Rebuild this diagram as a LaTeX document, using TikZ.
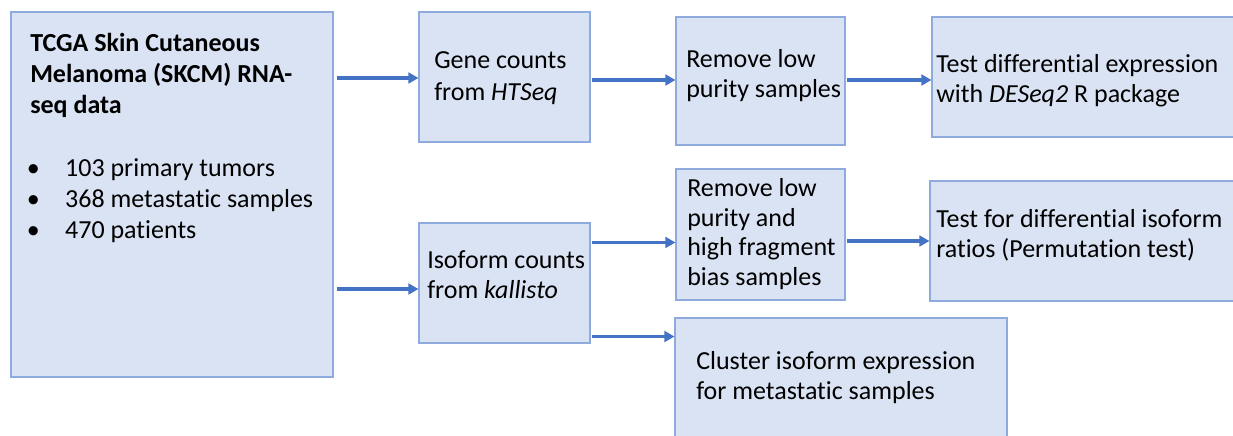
\documentclass[tikz,border=0pt]{standalone}
\usepackage{fontspec}
\setmainfont[Ligatures=NoCommon]{Carlito}
\usetikzlibrary{arrows.meta,calc,fit}
\definecolor{boxfill}{HTML}{DAE3F3}
\definecolor{boxline}{HTML}{8FAADC}
\definecolor{arrowc}{HTML}{4472C4}
\tikzset{
  box/.style={draw=boxline, fill=boxfill, line width=0.8pt, inner sep=0pt, rectangle},
  txt/.style={inner sep=0pt, align=left, anchor=base west, font=\fontsize{19.5}{23}\selectfont},
  arr/.style={draw=arrowc, line width=2.8pt, -{Triangle[length=7.5pt,width=8pt]}}
}
\newcommand{\blt}{\makebox[26.2pt][l]{\hspace{-2.5pt}•}}
\begin{document}
\begin{tikzpicture}[x=0.75pt,y=-0.75pt]
\useasboundingbox (0,0) rectangle (1233,436);
\clip (0,0) rectangle (1233,436);
% boxes
\node[box, fit={(11,12) (333,377)}] (main) {};
\node[box, fit={(419,12) (590,142)}] (gene) {};
\node[box, fit={(676,17) (845,145)}] (rem) {};
\node[box, fit={(932,17) (1240,137)}] (de) {};
\node[box, fit={(419,223) (590,343)}] (iso) {};
\node[box, fit={(676,169) (845,300)}] (remb) {};
\node[box, fit={(930,181) (1240,301)}] (diso) {};
\node[box, fit={(675,318) (1007,445)}] (clu) {};
% texts (anchored at the baseline of their last line)
\node[txt, font=\fontsize{19.5}{23.2}\selectfont\bfseries] (maint) at (30,113) {TCGA Skin Cutaneous\\Melanoma (SKCM) RNA-\\seq data};
\node[txt, font=\fontsize{19.5}{22.9}\selectfont] (list) at (30,238) {\blt 103 primary tumors\\\blt 368 metastatic samples\\\blt 470 patients};
\node[txt, font=\fontsize{19.5}{24}\selectfont] (genet) at (434,100) {Gene counts\\from \textit{HTSeq}};
\node[txt, font=\fontsize{19.5}{22.5}\selectfont] (remt) at (686,97) {Remove low\\purity samples};
\node[txt, font=\fontsize{19.5}{22.5}\selectfont] (det) at (936,102) {Test differential expression\\with \textit{DESeq2} R package};
\node[txt, font=\fontsize{19.5}{22.5}\selectfont] (isot) at (427,298) {Isoform counts\\from \textit{kallisto}};
\node[txt, font=\fontsize{19.5}{22.1}\selectfont] (rembt) at (687,285) {Remove low\\purity and\\high fragment\\bias samples};
\node[txt, font=\fontsize{19.5}{22.5}\selectfont] (disot) at (936,257) {Test for differential isoform\\ratios (Permutation test)};
\node[txt, font=\fontsize{19.5}{22.5}\selectfont] (clut) at (696,399) {Cluster isoform expression\\for metastatic samples};
% arrows
\draw[arr] ($(main.east |- gene.west)+(3,1)$) -- ($(gene.west)+(0,1)$);
\draw[arr] ($(main.east |- iso.west)+(3,6)$) -- ($(iso.west)+(0,6)$);
\draw[arr] ($(gene.east |- rem.west)+(1,-1)$) -- ($(rem.west)+(0,-1)$);
\draw[arr] ($(rem.east)+(1,-1)$) -- ($(rem.east -| de.west)+(0,-1)$);
\draw[arr] ($(iso.north east)+(1,20)$) -- ($(iso.north east -| remb.west)+(0,20)$);
\draw[arr] ($(remb.east |- diso.west)+(1,0)$) -- (diso.west);
\draw[arr] ($(iso.south east)+(1,-7)$) -- ($(iso.south east -| clu.west)+(0,-7)$);
\end{tikzpicture}
\end{document}
